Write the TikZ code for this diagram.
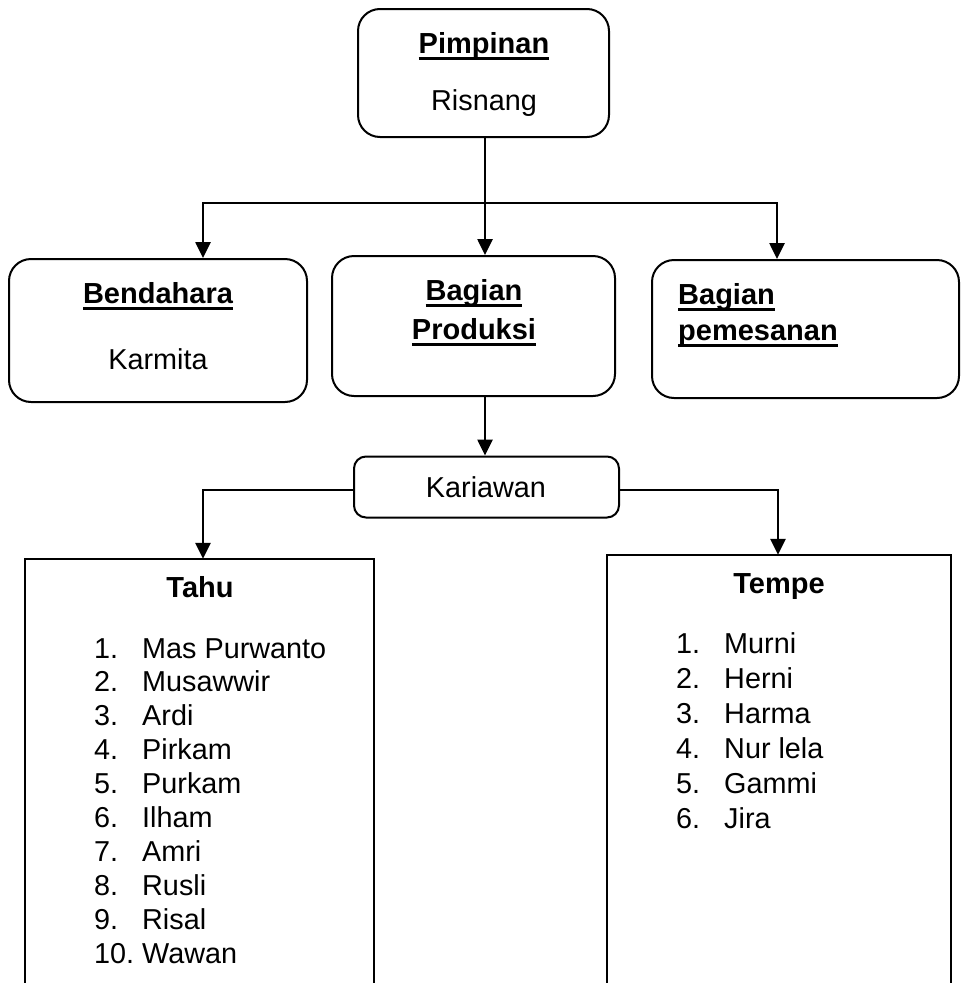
\documentclass[tikz,border=0pt]{standalone}
\usepackage{fontspec}
\setmainfont{Liberation Sans}
\usetikzlibrary{arrows.meta}
\newcommand\myul[1]{\setbox0\hbox{#1}\rlap{\vrule width\wd0 height -4.3pt depth 7pt}\box0}
\tikzset{
  box/.style={draw,line width=2pt,rounded corners=22pt,inner sep=0pt},
  openbox/.style={inner sep=0pt},
  conn/.style={line width=2.6pt},
  arr/.style={conn,-{Triangle[length=16pt,width=15pt]}},
  txt/.style={inner sep=0pt,anchor=base,font=\fontsize{28.8}{34}\selectfont},
  btxt/.style={inner sep=0pt,anchor=base,font=\fontsize{29}{34}\selectfont\bfseries},
}
\begin{document}
\begin{tikzpicture}[x=1pt,y=-1pt]
\useasboundingbox (0,0) rectangle (962,983);
% boxes
\node[box,minimum width=251pt,minimum height=128pt] (pim) at (483.5,73) {};
\node[box,minimum width=298pt,minimum height=143pt] (bend) at (158,330.5) {};
\node[box,minimum width=283pt,minimum height=140pt] (prod) at (473.5,326) {};
\node[box,minimum width=307pt,minimum height=138pt] (pem) at (805.5,329) {};
\node[box,rounded corners=12pt,minimum width=265pt,minimum height=61pt] (kar) at (486.5,487) {};
\node[openbox,minimum width=349pt,minimum height=424pt] (tahu) at (199.5,771) {};
\node[openbox,minimum width=344pt,minimum height=428pt] (tempe) at (779,769) {};
\draw[line width=2pt] (tahu.south west) -- (tahu.north west) -- (tahu.north east) -- (tahu.south east);
\draw[line width=2pt] (tempe.south west) -- (tempe.north west) -- (tempe.north east) -- (tempe.south east);
% texts
\node[btxt] (pimT) at (484,53) {\myul{Pimpinan}};
\node[txt] (pimN) at (484,110) {Risnang};
\node[btxt] (bendT) at (158,303) {\myul{Bendahara}};
\node[txt] (bendN) at (158,369) {Karmita};
\node[btxt] (prodT1) at (474,300) {\myul{Bagian}};
\node[btxt] (prodT2) at (474,339) {\myul{Produksi}};
\node[btxt,anchor=base west] (pemT1) at (678,304) {\myul{Bagian}};
\node[btxt,anchor=base west] (pemT2) at (678,340) {\myul{pemesanan}};
\node[txt] (karT) at (486,497) {Kariawan};
\node[btxt] (tahuT) at (200,597) {Tahu};
\node[btxt] (tempeT) at (779,593) {Tempe};
\foreach \n/\name [count=\i from 0] in {1/Mas Purwanto,2/Musawwir,3/Ardi,4/Pirkam,5/Purkam,6/Ilham,7/Amri,8/Rusli,9/Risal,10/Wawan}{
  \node[txt,anchor=base west] (tahuN\n) at (94,{658+33.9*\i}) {\n.};
  \node[txt,anchor=base west] (tahuM\n) at (142,{658+33.9*\i}) {\name};
}
\foreach \n/\name [count=\i from 0] in {1/Murni,2/Herni,3/Harma,4/Nur lela,5/Gammi,6/Jira}{
  \node[txt,anchor=base west] (tempeN\n) at (676,{653+35*\i}) {\n.};
  \node[txt,anchor=base west] (tempeM\n) at (724,{653+35*\i}) {\name};
}
% connectors
\coordinate (hl) at (203,203);
\coordinate (hr) at (777,203);
\coordinate (hc) at (485,203);
\coordinate (kl) at (203,490);
\coordinate (kr) at (778,490);
\draw[arr] (hr) -- (hl) -- (bend.north -| hl);
\draw[arr] (hl) -- (hr) -- (pem.north -| hr);
\draw[arr] (pim.south -| hc) -- (prod.north -| hc);
\draw[arr] (prod.south -| hc) -- (kar.north -| hc);
\draw[arr] (kar.west |- kl) -- (kl) -- (tahu.north -| kl);
\draw[arr] (kar.east |- kr) -- (kr) -- (tempe.north -| kr);
\end{tikzpicture}
\end{document}
